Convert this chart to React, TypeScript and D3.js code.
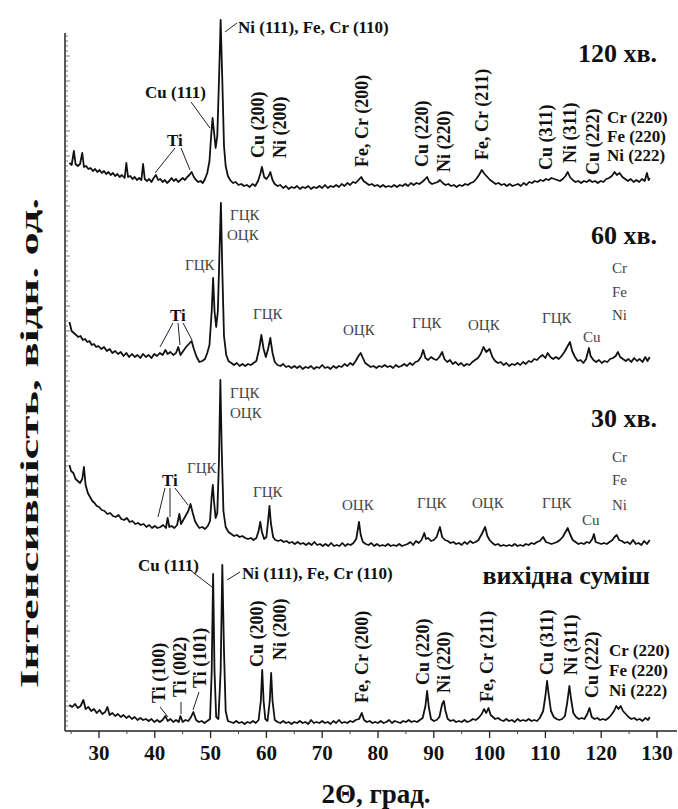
import React from 'react';
import * as d3 from 'd3';

// 2θ (deg) and intensity (arb. units), one array per milling time
const rawMix: [number, number][] = [
  [24.7,26],[25.2,24],[25.7,27],[26.2,23],[26.7,25],[27.2,31],[27.6,22],[28.1,24],[28.6,20],[29.1,22],[29.6,18],[30.1,21],[30.6,17],[31.1,19],[31.5,24],[31.9,16],[32.4,18],[32.9,15],[33.4,17],[33.9,14],[34.4,16],[34.9,13],[35.4,15],[35.9,12],[36.4,14],[36.9,11],[37.4,13],[37.9,11],[38.4,12],[38.9,10],[39.4,12],[39.9,9],[40.4,11],[40.9,9],[41.4,11],[41.9,15],[42.3,10],[42.8,12],[43.3,9],[43.8,11],[44.3,9],[44.6,15],[45.0,9],[45.5,11],[46.0,10],[46.5,14],[46.9,19],[47.4,11],[47.9,9],[48.4,10],[48.9,8],[49.4,10],[49.9,12],[50.2,60],[50.45,157],[50.7,60],[51.0,14],[51.4,12],[51.8,60],[52.1,166],[52.4,80],[52.7,20],[53.1,10],[53.6,9],[54.1,8],[54.6,10],[55.1,8],[55.6,9],[56.1,7],[56.6,9],[57.1,8],[57.6,10],[58.1,8],[58.6,11],[59.0,30],[59.25,61],[59.5,30],[59.8,12],[60.2,10],[60.6,30],[60.85,58],[61.1,30],[61.5,11],[62.0,9],[62.5,8],[63.0,10],[63.5,8],[64.0,9],[64.5,7],[65.0,9],[65.5,8],[66.0,10],[66.5,8],[67.0,9],[67.5,7],[68.0,11],[68.5,8],[69.0,9],[69.5,8],[70.0,10],[70.5,8],[71.0,9],[71.5,7],[72.0,10],[72.5,8],[73.0,11],[73.5,8],[74.0,9],[74.5,8],[75.0,10],[75.5,9],[76.0,11],[76.6,12],[77.1,18],[77.5,11],[78.0,9],[78.5,10],[79.0,8],[79.5,9],[80.0,8],[80.5,10],[81.0,8],[81.5,9],[82.0,11],[82.5,8],[83.0,10],[83.5,9],[84.0,8],[84.5,10],[85.0,9],[85.5,11],[86.0,9],[86.5,10],[87.0,9],[87.5,11],[88.0,13],[88.5,25],[88.8,40],[89.1,24],[89.5,12],[90.0,10],[90.5,11],[91.0,14],[91.5,27],[91.8,30],[92.1,20],[92.5,12],[93.0,10],[93.5,11],[94.0,9],[94.5,10],[95.0,9],[95.5,11],[96.0,9],[96.5,10],[97.0,12],[97.5,11],[98.0,13],[98.6,17],[99.0,22],[99.4,18],[99.8,23],[100.2,16],[100.6,14],[101.0,12],[101.5,13],[102.0,11],[102.5,10],[103.0,12],[103.5,10],[104.0,11],[104.5,9],[105.0,12],[105.5,10],[106.0,11],[106.5,10],[107.0,12],[107.5,10],[108.0,11],[108.5,10],[109.0,13],[109.6,20],[110.0,35],[110.3,50],[110.6,36],[111.0,20],[111.5,14],[112.0,12],[112.5,11],[113.0,12],[113.5,15],[113.9,28],[114.3,45],[114.6,32],[115.0,18],[115.5,14],[116.0,12],[116.5,13],[117.0,12],[117.5,17],[117.9,23],[118.3,14],[118.8,12],[119.3,13],[119.8,11],[120.3,12],[120.8,11],[121.3,13],[121.8,16],[122.3,20],[122.7,25],[123.1,22],[123.5,25],[123.9,20],[124.4,17],[124.9,14],[125.4,12],[125.9,13],[126.4,11],[126.9,12],[127.4,10],[127.9,13],[128.4,11],[128.7,14],
];

const min30: [number, number][] = [
  [24.7,86],[25.0,80],[25.4,78],[25.8,72],[26.2,70],[26.6,68],[27.0,72],[27.3,84],[27.6,66],[28.0,58],[28.4,54],[28.8,50],[29.2,48],[29.6,45],[30.0,44],[30.5,41],[31.0,40],[31.5,37],[32.0,38],[32.5,35],[33.0,34],[33.5,36],[34.0,32],[34.5,31],[35.0,33],[35.5,29],[36.0,30],[36.5,27],[37.0,28],[37.5,26],[38.0,27],[38.5,24],[39.0,26],[39.5,23],[40.0,25],[40.5,23],[41.0,24],[41.5,26],[42.0,23],[42.3,33],[42.6,24],[43.0,25],[43.5,23],[44.0,26],[44.4,37],[44.7,27],[45.1,31],[45.6,36],[46.0,40],[46.4,47],[46.8,38],[47.2,30],[47.6,26],[48.0,23],[48.5,24],[49.0,22],[49.5,25],[49.9,30],[50.2,55],[50.4,66],[50.6,50],[50.9,33],[51.2,38],[51.5,90],[51.75,171],[52.0,100],[52.3,40],[52.7,24],[53.2,19],[53.7,17],[54.2,15],[54.7,16],[55.2,14],[55.7,15],[56.2,13],[56.7,12],[57.2,13],[57.7,11],[58.2,13],[58.6,20],[58.9,29],[59.2,19],[59.6,12],[60.0,14],[60.3,30],[60.55,45],[60.8,28],[61.2,14],[61.6,11],[62.1,10],[62.6,11],[63.1,9],[63.6,10],[64.1,8],[64.6,9],[65.1,7],[65.6,9],[66.1,7],[66.6,8],[67.1,6],[67.6,8],[68.1,6],[68.6,9],[69.1,6],[69.6,7],[70.1,5],[70.6,7],[71.1,5],[71.6,8],[72.1,5],[72.6,6],[73.1,5],[73.6,8],[74.1,5],[74.6,7],[75.1,6],[75.6,8],[76.1,12],[76.6,29],[76.9,16],[77.3,9],[77.8,7],[78.3,6],[78.8,8],[79.3,5],[79.8,7],[80.3,5],[80.8,6],[81.3,5],[81.8,7],[82.3,5],[82.8,6],[83.3,5],[83.8,7],[84.3,5],[84.8,6],[85.3,7],[85.8,9],[86.3,6],[86.8,10],[87.3,8],[87.8,11],[88.3,18],[88.6,12],[89.0,13],[89.5,10],[90.0,11],[90.5,14],[91.1,24],[91.5,14],[92.0,11],[92.5,10],[93.0,8],[93.5,9],[94.0,7],[94.5,8],[95.0,6],[95.5,9],[96.0,7],[96.5,10],[97.0,8],[97.5,9],[98.0,11],[98.6,17],[99.2,24],[99.6,15],[100.0,11],[100.5,8],[101.0,6],[101.5,7],[102.0,5],[102.5,6],[103.0,5],[103.5,6],[104.0,5],[104.5,7],[105.0,5],[105.5,6],[106.0,5],[106.5,7],[107.0,6],[107.5,8],[108.0,7],[108.5,9],[109.0,10],[109.6,14],[110.1,9],[110.6,8],[111.1,7],[111.6,8],[112.1,9],[112.6,11],[113.1,14],[113.6,19],[114.0,23],[114.4,17],[114.9,11],[115.4,9],[115.9,7],[116.4,8],[116.9,7],[117.4,9],[117.9,8],[118.4,12],[118.7,17],[119.0,9],[119.5,8],[120.0,7],[120.5,8],[121.0,7],[121.5,9],[122.0,11],[122.4,14],[122.8,16],[123.2,11],[123.7,10],[124.2,8],[124.7,9],[125.2,7],[125.7,11],[126.2,7],[126.7,8],[127.2,6],[127.7,10],[128.2,7],[128.7,11],
];

const min60: [number, number][] = [
  [24.7,49],[25.1,40],[25.5,38],[25.9,36],[26.3,34],[26.7,35],[27.1,31],[27.5,32],[27.9,29],[28.3,30],[28.7,26],[29.1,27],[29.5,24],[29.9,25],[30.4,22],[30.9,24],[31.4,20],[31.9,22],[32.4,18],[32.9,20],[33.4,17],[33.9,19],[34.4,15],[34.9,18],[35.4,14],[35.9,17],[36.4,14],[36.9,16],[37.4,13],[37.9,17],[38.4,14],[38.9,16],[39.4,13],[39.9,17],[40.4,15],[40.9,18],[41.4,16],[41.9,21],[42.3,17],[42.8,19],[43.3,16],[43.8,18],[44.2,24],[44.6,16],[45.1,20],[45.6,24],[46.1,27],[46.6,30],[47.0,22],[47.5,14],[48.0,9],[48.5,10],[49.0,12],[49.4,18],[49.8,26],[50.2,60],[50.45,93],[50.7,60],[51.0,44],[51.3,60],[51.6,120],[51.85,168],[52.1,100],[52.4,35],[52.8,16],[53.2,10],[53.7,8],[54.2,6],[54.7,8],[55.2,5],[55.7,7],[56.2,5],[56.7,7],[57.2,6],[57.7,8],[58.2,10],[58.7,22],[59.1,36],[59.5,22],[59.9,14],[60.3,22],[60.7,33],[61.1,18],[61.5,9],[62.0,6],[62.5,5],[63.0,7],[63.5,4],[64.0,5],[64.5,3],[65.0,5],[65.5,3],[66.0,5],[66.5,2],[67.0,4],[67.5,3],[68.0,5],[68.5,2],[69.0,4],[69.5,3],[70.0,6],[70.5,3],[71.0,4],[71.5,2],[72.0,5],[72.5,3],[73.0,5],[73.5,4],[74.0,7],[74.5,5],[75.0,8],[75.5,6],[76.0,10],[76.5,15],[76.9,18],[77.3,13],[77.7,8],[78.2,6],[78.7,4],[79.2,5],[79.7,3],[80.2,5],[80.7,4],[81.2,6],[81.7,4],[82.2,5],[82.7,3],[83.2,6],[83.7,4],[84.2,5],[84.7,7],[85.2,5],[85.7,8],[86.2,6],[86.7,9],[87.2,10],[87.7,14],[88.1,21],[88.5,13],[89.0,11],[89.5,14],[90.0,12],[90.5,11],[91.0,14],[91.5,19],[91.9,12],[92.4,9],[92.9,11],[93.4,7],[93.9,9],[94.4,6],[94.9,8],[95.4,5],[95.9,7],[96.4,6],[96.9,9],[97.4,11],[97.9,13],[98.4,17],[98.9,24],[99.4,19],[100.0,22],[100.5,14],[101.0,10],[101.5,8],[102.0,9],[102.5,6],[103.0,8],[103.5,5],[104.0,7],[104.5,6],[105.0,8],[105.5,6],[106.0,9],[106.5,7],[107.0,10],[107.5,9],[108.0,12],[108.5,11],[109.0,14],[109.5,16],[110.0,13],[110.4,18],[110.9,14],[111.4,12],[111.9,14],[112.4,12],[112.9,15],[113.4,19],[113.9,24],[114.4,29],[114.8,20],[115.3,14],[115.8,10],[116.3,11],[116.8,8],[117.3,12],[117.8,23],[118.1,15],[118.6,11],[119.1,9],[119.6,11],[120.1,8],[120.6,10],[121.1,9],[121.6,12],[122.1,13],[122.6,15],[123.0,19],[123.4,14],[123.9,12],[124.4,10],[124.9,12],[125.4,9],[125.9,13],[126.4,10],[126.9,12],[127.4,9],[127.9,14],[128.3,10],[128.7,14],
];

const min120: [number, number][] = [
  [24.7,28],[25.1,26],[25.5,40],[25.8,27],[26.2,25],[26.6,27],[27.0,38],[27.3,24],[27.7,25],[28.1,22],[28.5,23],[28.9,20],[29.3,22],[29.7,19],[30.1,21],[30.5,18],[30.9,20],[31.3,17],[31.7,19],[32.1,16],[32.5,18],[32.9,15],[33.3,17],[33.7,14],[34.1,16],[34.6,13],[34.9,28],[35.2,14],[35.6,15],[36.0,12],[36.4,14],[36.8,11],[37.2,13],[37.6,11],[37.9,27],[38.2,12],[38.6,10],[39.0,12],[39.4,9],[39.8,13],[40.2,16],[40.6,11],[41.0,12],[41.4,9],[41.8,11],[42.2,8],[42.6,10],[43.0,13],[43.4,10],[43.8,12],[44.2,9],[44.6,11],[45.0,13],[45.4,11],[45.8,14],[46.2,16],[46.6,19],[47.0,14],[47.4,11],[47.8,9],[48.2,10],[48.6,8],[49.0,12],[49.4,18],[49.8,30],[50.1,55],[50.35,73],[50.6,60],[50.9,43],[51.2,55],[51.5,110],[51.8,171],[52.1,110],[52.4,45],[52.7,25],[53.1,15],[53.5,11],[54.0,8],[54.5,9],[55.0,6],[55.5,7],[56.0,5],[56.5,6],[57.0,4],[57.5,7],[58.0,5],[58.5,10],[58.9,17],[59.2,24],[59.6,14],[60.0,12],[60.4,15],[60.7,19],[61.1,11],[61.5,7],[62.0,5],[62.5,6],[63.0,3],[63.5,5],[64.0,2],[64.5,4],[65.0,3],[65.5,5],[66.0,2],[66.5,4],[67.0,3],[67.5,5],[68.0,2],[68.5,4],[69.0,3],[69.5,5],[70.0,3],[70.5,6],[71.0,3],[71.5,5],[72.0,4],[72.5,6],[73.0,4],[73.5,7],[74.0,5],[74.5,8],[75.0,6],[75.5,9],[76.0,8],[76.5,11],[77.0,14],[77.4,10],[77.9,8],[78.4,6],[78.9,7],[79.4,5],[79.9,6],[80.4,4],[80.9,6],[81.4,4],[81.9,5],[82.4,4],[82.9,6],[83.4,4],[83.9,6],[84.4,5],[84.9,7],[85.4,5],[85.9,8],[86.4,6],[86.9,8],[87.4,7],[87.9,9],[88.3,11],[88.8,14],[89.2,9],[89.7,7],[90.2,8],[90.7,9],[91.1,11],[91.6,8],[92.1,6],[92.6,7],[93.1,5],[93.6,6],[94.1,4],[94.6,6],[95.1,5],[95.6,7],[96.1,6],[96.6,8],[97.1,9],[97.6,12],[98.1,16],[98.6,21],[99.1,17],[99.6,14],[100.1,11],[100.6,9],[101.1,7],[101.6,8],[102.1,6],[102.6,7],[103.1,5],[103.6,7],[104.1,5],[104.6,6],[105.1,7],[105.6,5],[106.1,8],[106.6,6],[107.1,9],[107.6,8],[108.1,10],[108.6,9],[109.1,11],[109.6,10],[110.1,12],[110.6,11],[111.1,13],[111.6,12],[112.1,11],[112.6,10],[113.1,12],[113.6,15],[114.0,19],[114.4,14],[114.9,11],[115.4,9],[115.9,10],[116.4,8],[116.9,10],[117.4,9],[117.9,11],[118.4,9],[118.9,10],[119.4,8],[119.9,10],[120.4,9],[120.9,12],[121.4,13],[121.9,15],[122.4,19],[122.8,16],[123.3,18],[123.8,14],[124.3,12],[124.8,10],[125.3,12],[125.8,9],[126.3,11],[126.8,9],[127.3,12],[127.8,10],[128.2,18],[128.5,11],[128.7,13],
];

const xTicks = [30, 40, 50, 60, 70, 80, 90, 100, 110, 120, 130];
const timeLabels = ['вихідна суміш', '30 хв.', '60 хв.', '120 хв.'];

const W = 678;
const H = 809;
const font = 'Liberation Serif, DejaVu Serif, serif';

// vertical hkl labels: [text, x, bottom y]
const vLabels: [string, number, number][] = [
  ['Cu (200)', 258, 158], ['Ni (200)', 280, 158], ['Fe, Cr (200)', 362, 167],
  ['Cu (220)', 422, 167], ['Ni (220)', 444, 172], ['Fe, Cr (211)', 482, 160],
  ['Cu (311)', 546, 170], ['Ni (311)', 570, 163], ['Cu (222)', 593, 175],
  ['Ti (100)', 159, 703], ['Ti (002)', 180, 697], ['Ti (101)', 200, 688],
  ['Cu (200)', 257, 667], ['Ni (200)', 280, 660], ['Fe, Cr (200)', 362, 703],
  ['Cu (220)', 423, 685], ['Ni (220)', 444, 693], ['Fe, Cr (211)', 487, 702],
  ['Cu (311)', 547, 675], ['Ni (311)', 571, 675], ['Cu (222)', 592, 698],
];

// horizontal bold labels: [text, x, center y]
const hLabels: [string, number, number][] = [
  ['Ni (111), Fe, Cr (110)', 238, 27], ['Cu (111)', 145, 92], ['Ti', 167, 140],
  ['Cr (220)', 607, 117], ['Fe (220)', 607, 136], ['Ni (222)', 607, 155],
  ['Ti', 170, 315], ['Ti', 162, 480],
  ['Cu (111)', 138, 565], ['Ni (111), Fe, Cr (110)', 242, 573],
  ['Cr (220)', 609, 650], ['Fe (220)', 609, 670], ['Ni (222)', 609, 690],
];

// phase labels (regular grey)
const pLabels: [string, number, number][] = [
  ['ГЦК', 230, 215], ['ОЦК', 227, 235], ['ГЦК', 185, 265], ['ГЦК', 253, 314], ['ОЦК', 343, 330],
  ['ГЦК', 412, 323], ['ОЦК', 468, 325], ['ГЦК', 542, 318], ['Cu', 583, 337],
  ['Cr', 612, 268], ['Fe', 612, 292], ['Ni', 612, 315],
  ['ГЦК', 230, 393], ['ОЦК', 230, 413], ['ГЦК', 187, 468], ['ГЦК', 253, 492], ['ОЦК', 342, 505],
  ['ГЦК', 417, 503], ['ОЦК', 472, 503], ['ГЦК', 542, 503], ['Cu', 582, 520],
  ['Cr', 612, 457], ['Fe', 612, 480], ['Ni', 612, 505],
];

const leaders: [number, number, number, number][] = [
  [225, 32, 237, 23], [191, 102, 210, 128], [175, 148, 155, 173], [181, 148, 190, 170],
  [173, 323, 160, 347], [178, 323, 180, 345], [183, 323, 192, 340],
  [165, 488, 158, 517], [170, 488, 170, 517], [175, 488, 188, 505],
  [190, 570, 212, 587], [227, 580, 240, 572],
  [160, 707, 168, 717], [181, 702, 181, 714], [199, 692, 193, 710],
];

const App = () => {
  const x = d3.scaleLinear().domain([30, 130]).range([99, 657]);
  const y = d3.scaleLinear().domain([0, 700]).range([731, 31]);

  const series = [
    { data: rawMix, offset: 0, label: timeLabels[0], lx: 650, ly: 575 },
    { data: min30, offset: 180, label: timeLabels[1], lx: 657, ly: 418 },
    { data: min60, offset: 360, label: timeLabels[2], lx: 657, ly: 235 },
    { data: min120, offset: 540, label: timeLabels[3], lx: 657, ly: 53 },
  ];

  const minorX = d3.range(25, 136, 5).filter(v => v % 10 !== 0);
  const yTicks = d3.range(0, 700, 5);

  return (
    <svg width={W} height={H} style={{ position: 'absolute', left: 0, top: 0, background: '#fff', fontFamily: font }}>
      {/* axes */}
      <line x1={65} x2={65} y1={33} y2={731} stroke="#222" strokeWidth={1.5} />
      <line x1={65} x2={677} y1={731} y2={731} stroke="#222" strokeWidth={1.5} />
      {yTicks.map(t => (
        <line key={'yt' + t} x1={65} x2={t % 25 === 0 ? 70 : 68} y1={y(t)} y2={y(t)} stroke="#555" strokeWidth={0.8} />
      ))}
      {xTicks.map(t => (
        <g key={'xt' + t}>
          <line x1={x(t)} x2={x(t)} y1={731} y2={738} stroke="#222" strokeWidth={1.3} />
          <text x={x(t)} y={760} textAnchor="middle" fontSize={21} fontWeight="bold" fill="#111">{t}</text>
        </g>
      ))}
      {minorX.map(t => (
        <line key={'mx' + t} x1={x(t)} x2={x(t)} y1={731} y2={734} stroke="#444" strokeWidth={1} />
      ))}
      <text x={376} y={803} textAnchor="middle" fontSize={27} fontWeight="bold" fill="#111">2Θ, град.</text>
      <text transform="translate(38,443) rotate(-90)" textAnchor="middle" fontSize={26} fontWeight="bold" fill="#111"
        textLength={490} lengthAdjust="spacingAndGlyphs">
        Інтенсивність, відн. од.
      </text>

      {/* patterns */}
      {series.map((s, i) => {
        const line = d3.line<[number, number]>()
          .x(d => x(d[0]))
          .y(d => y(d[1] + s.offset));
        return (
          <g key={'s' + i}>
            <path d={line(s.data) || ''} fill="none" stroke="#111" strokeWidth={1.8} strokeLinejoin="round" />
            <text x={s.lx} y={s.ly} dy="0.35em" textAnchor="end" fontSize={26} fontWeight="bold" fill="#111">{s.label}</text>
          </g>
        );
      })}

      {/* annotations */}
      {leaders.map((l, i) => (
        <line key={'ld' + i} x1={l[0]} y1={l[1]} x2={l[2]} y2={l[3]} stroke="#222" strokeWidth={1} />
      ))}
      {vLabels.map((l, i) => (
        <text key={'v' + i} transform={`translate(${l[1]},${l[2]}) rotate(-90)`} dy="0.35em"
          fontSize={18} fontWeight="bold" fill="#111">{l[0]}</text>
      ))}
      {hLabels.map((l, i) => (
        <text key={'h' + i} x={l[1]} y={l[2]} dy="0.35em" fontSize={17} fontWeight="bold" fill="#111">{l[0]}</text>
      ))}
      {pLabels.map((l, i) => (
        <text key={'p' + i} x={l[1]} y={l[2]} dy="0.35em" fontSize={15} fill="#444">{l[0]}</text>
      ))}
    </svg>
  );
};

export default App;
